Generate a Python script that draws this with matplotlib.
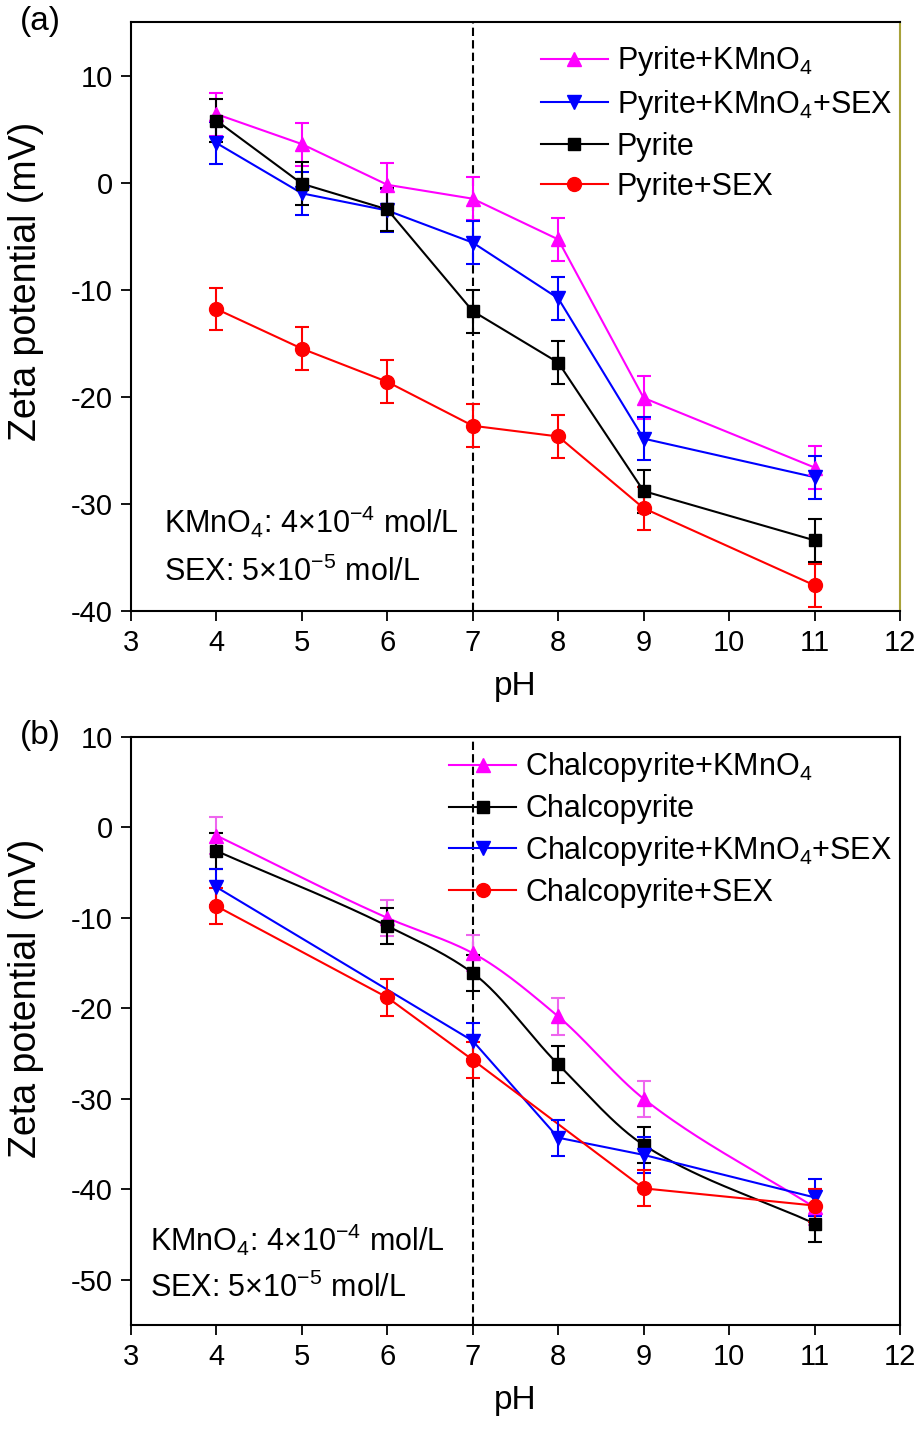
import numpy as np
import matplotlib
matplotlib.use("Agg")
import matplotlib.pyplot as plt

plt.rcParams['font.family'] = ['Liberation Sans', 'DejaVu Sans']
plt.rcParams['mathtext.fontset'] = 'custom'
plt.rcParams['mathtext.rm'] = 'Liberation Sans'
plt.rcParams['mathtext.it'] = 'Liberation Sans'
plt.rcParams['axes.unicode_minus'] = False

# ---- (a) pyrite ----
ph_a = [4, 5, 6, 7, 8, 9, 11]
pyr_kmno4 = [6.4, 3.6, -0.2, -1.5, -5.3, -20.1, -26.6]
pyr_kmno4_err = [2.0, 2.0, 2.0, 2.0, 2.0, 2.0, 2.0]
pyr_kmno4_sex = [3.7, -1.0, -2.6, -5.6, -10.8, -23.9, -27.5]
pyr_kmno4_sex_err = [2.0, 2.0, 2.0, 2.0, 2.0, 2.0, 2.0]
pyr = [5.8, -0.1, -2.5, -12.0, -16.8, -28.8, -33.4]
pyr_err = [2.0, 2.0, 2.0, 2.0, 2.0, 2.0, 2.0]
pyr_sex = [-11.8, -15.5, -18.6, -22.7, -23.7, -30.4, -37.6]
pyr_sex_err = [2.0, 2.0, 2.0, 2.0, 2.0, 2.0, 2.0]

# ---- (b) chalcopyrite ----
ph_b_kmno4 = [4, 6, 7, 8, 9, 11]
cha_kmno4 = [-0.9, -10.0, -13.9, -20.9, -30.0, -42.0]
cha_kmno4_err = [2.0, 2.0, 2.0, 2.0, 2.0, 2.0]
ph_b_cha = [4, 6, 7, 8, 9, 11]
cha = [-2.6, -10.9, -16.1, -26.2, -35.1, -43.8]
cha_err = [2.0, 2.0, 2.0, 2.0, 2.0, 2.0]
ph_b_kmno4_sex = [4, 7, 8, 9, 11]
cha_kmno4_sex = [-6.6, -23.6, -34.3, -36.2, -40.9]
cha_kmno4_sex_err = [2.0, 2.0, 2.0, 2.0, 2.0]
ph_b_sex = [4, 6, 7, 9, 11]
cha_sex = [-8.7, -18.8, -25.7, -39.9, -41.8]
cha_sex_err = [2.0, 2.0, 2.0, 2.0, 1.8]

MAG = '#ff00ff'
BLUE = '#0000ff'
RED = '#ff0000'
BLK = '#000000'
FS_TICK = 21
FS_TEXT = 22
FS_XLAB = 24
FS_YLAB = 27


def smooth(x, y, n=200):
    """Monotone cubic (Fritsch-Carlson) curve through the given points."""
    x = np.asarray(x, float)
    y = np.asarray(y, float)
    h = np.diff(x)
    d = np.diff(y) / h
    m = np.zeros_like(y)
    m[0], m[-1] = d[0], d[-1]
    for i in range(1, len(x) - 1):
        if d[i - 1] * d[i] <= 0:
            m[i] = 0
        else:
            w1 = 2 * h[i] + h[i - 1]
            w2 = h[i] + 2 * h[i - 1]
            m[i] = (w1 + w2) / (w1 / d[i - 1] + w2 / d[i])
    xs = np.linspace(x[0], x[-1], n)
    ys = np.empty_like(xs)
    for k, xv in enumerate(xs):
        i = min(np.searchsorted(x, xv, side='right') - 1, len(x) - 2)
        t = (xv - x[i]) / h[i]
        h00 = 2 * t**3 - 3 * t**2 + 1
        h10 = t**3 - 2 * t**2 + t
        h01 = -2 * t**3 + 3 * t**2
        h11 = t**3 - t**2
        ys[k] = h00 * y[i] + h10 * h[i] * m[i] + h01 * y[i + 1] + h11 * h[i] * m[i + 1]
    return xs, ys


def series(ax, x, y, err, color, marker, label, curved=False, ecolor=None, ms=10):
    if curved:
        xs, ys = smooth(x, y)
        ax.plot(xs, ys, color=color, lw=1.5, zorder=2)
    else:
        ax.plot(x, y, color=color, lw=1.5, zorder=2)
    ax.errorbar(x, y, yerr=err, fmt='none', ecolor=ecolor or color,
                elinewidth=1.5, capsize=5, capthick=1.5, zorder=3)
    ax.plot(x, y, linestyle='none', marker=marker, color=color, ms=ms, zorder=4)
    # legend proxy
    ax.plot([], [], color=color, lw=1.5, marker=marker, ms=ms, label=label)


def style_axes(ax, ylim, yticks, ylab_y):
    ax.set_xlim(3, 12)
    ax.set_ylim(*ylim)
    ax.set_xticks(range(3, 13))
    ax.set_yticks(yticks)
    ax.tick_params(direction='out', length=7, width=1.3, labelsize=FS_TICK, pad=6)
    for s in ax.spines.values():
        s.set_linewidth(1.5)
    ax.axvline(7, color='black', ls=(0, (4, 2)), lw=1.5, zorder=1)
    ax.set_xlabel('pH', fontsize=FS_XLAB, labelpad=10)
    ax.set_ylabel('Zeta potential (mV)', fontsize=FS_YLAB)
    ax.yaxis.set_label_coords(-0.113, ylab_y)


def legend(ax, top):
    ax.legend(loc='upper right', fontsize=FS_TEXT, frameon=False, handlelength=2.2,
              handletextpad=0.3, labelspacing=0.32, borderaxespad=0.0,
              borderpad=0.25, bbox_to_anchor=(1.0, top))


fig = plt.figure(figsize=(9.18, 14.29), dpi=100)
ax1 = fig.add_axes([0.1427, 0.5724, 0.8377, 0.4122])
ax2 = fig.add_axes([0.1427, 0.0728, 0.8377, 0.4115])

# panel (a)
series(ax1, ph_a, pyr_kmno4, pyr_kmno4_err, MAG, '^', r'Pyrite+KMnO$_4$')
series(ax1, ph_a, pyr_kmno4_sex, pyr_kmno4_sex_err, BLUE, 'v', r'Pyrite+KMnO$_4$+SEX')
series(ax1, ph_a, pyr, pyr_err, BLK, 's', 'Pyrite', ms=8)
series(ax1, ph_a, pyr_sex, pyr_sex_err, RED, 'o', 'Pyrite+SEX')
style_axes(ax1, (-40, 15), [-40, -30, -20, -10, 0, 10], 0.56)
ax1.spines['right'].set_color('#a8a23a')
legend(ax1, 0.975)
ax1.text(0.043, 0.151, r'KMnO$_4$: 4$\times$10$^{-4}$ mol/L', transform=ax1.transAxes,
         fontsize=FS_TEXT, va='center')
ax1.text(0.043, 0.066, r'SEX: 5$\times$10$^{-5}$ mol/L', transform=ax1.transAxes,
         fontsize=FS_TEXT, va='center')
fig.text(0.022, 0.985, '(a)', fontsize=FS_XLAB, va='center')

# panel (b)
series(ax2, ph_b_kmno4, cha_kmno4, cha_kmno4_err, MAG, '^', r'Chalcopyrite+KMnO$_4$',
       curved=True, ecolor='#ee66ee')
series(ax2, ph_b_cha, cha, cha_err, BLK, 's', 'Chalcopyrite', curved=True, ms=8)
series(ax2, ph_b_kmno4_sex, cha_kmno4_sex, cha_kmno4_sex_err, BLUE, 'v',
       r'Chalcopyrite+KMnO$_4$+SEX')
series(ax2, ph_b_sex, cha_sex, cha_sex_err, RED, 'o', 'Chalcopyrite+SEX')
style_axes(ax2, (-55, 10), [-50, -40, -30, -20, -10, 0, 10], 0.555)
legend(ax2, 0.99)
ax2.text(0.025, 0.145, r'KMnO$_4$: 4$\times$10$^{-4}$ mol/L', transform=ax2.transAxes,
         fontsize=FS_TEXT, va='center')
ax2.text(0.025, 0.063, r'SEX: 5$\times$10$^{-5}$ mol/L', transform=ax2.transAxes,
         fontsize=FS_TEXT, va='center')
fig.text(0.022, 0.485, '(b)', fontsize=FS_XLAB, va='center')

fig.savefig('out.png', dpi=100)
